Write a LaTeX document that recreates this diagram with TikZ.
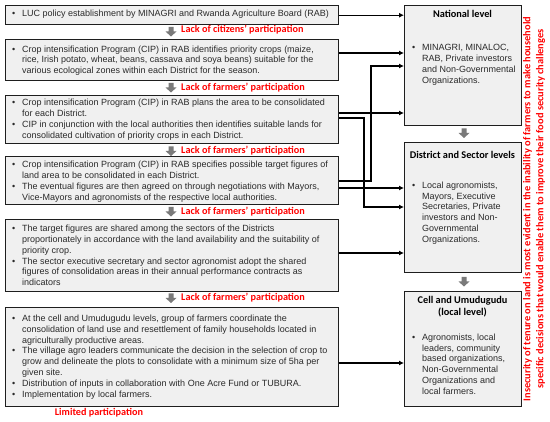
\documentclass[tikz,border=0pt]{standalone}
\usepackage{fontspec}
\setmainfont{Liberation Sans}
\newfontfamily\calfont{Carlito}
\usetikzlibrary{arrows.meta,calc}
\definecolor{boxfill}{HTML}{F0F0F0}
\definecolor{boxline}{HTML}{1E1E1E}
\definecolor{txtc}{HTML}{2A2A2A}
\definecolor{labred}{HTML}{FF0000}
\definecolor{garr}{HTML}{7A7A7A}
\newcommand{\bu}{\makebox[10pt][l]{\textbullet}}
\newcommand{\ct}{\hspace*{10pt}}
\newcommand{\bodyf}{\fontsize{9.0}{10.8}\selectfont}
\tikzset{
  lbox/.style={draw=boxline, line width=1.4pt, fill=boxfill, anchor=north west,
    minimum width=333pt, inner sep=0pt},
  ltext/.style={anchor=west, align=left, inner sep=0pt, font=\bodyf, text=txtc},
  rbox/.style={draw=boxline, line width=1.4pt, fill=boxfill, anchor=north west,
    minimum width=117pt, inner sep=0pt},
  rtext/.style={anchor=north west, align=left, inner sep=0pt, font=\bodyf, text=txtc},
  head/.style={align=center, inner sep=0pt, font=\calfont\bfseries\fontsize{10.3}{12}\selectfont, text=black},
  lab/.style={anchor=west, inner sep=0pt, font=\calfont\bfseries\fontsize{10.2}{12}\selectfont, text=labred},
  conn/.style={line width=1.1pt, draw=black, -{Latex[length=5pt,width=5pt]}},
  garrow/.pic={\fill[garr] (-2.5,0) -- (2.5,0) -- (2.5,4.5) -- (5.5,4.5) -- (0,9.5) -- (-5.5,4.5) -- (-2.5,4.5) -- cycle;}
}
\begin{document}
\begin{tikzpicture}[x=1pt,y=-1pt]
\useasboundingbox (0,0) rectangle (550,422);
% left boxes
\node[lbox, minimum height=19pt] (b1) at (5,5) {};
\node[ltext] (t1) at (12,14.5) {\bu LUC policy establishment by MINAGRI and Rwanda Agriculture Board (RAB)};
\node[lbox, minimum height=41pt] (b2) at (5,39) {};
\node[ltext] (t2) at (12,60.5) {\bu Crop intensification Program (CIP) in RAB identifies priority crops (maize,\\\ct rice, Irish potato, wheat, beans, cassava and soya beans) suitable for the\\\ct various ecological zones within each District for the season.};
\node[lbox, minimum height=48pt] (b3) at (5,95) {};
\node[ltext] (t3) at (12,119.5) {\bu Crop intensification Program (CIP) in RAB plans the area to be consolidated\\\ct for each District.\\\bu CIP in conjunction with the local authorities then identifies suitable lands for\\\ct consolidated cultivation of priority crops in each District.};
\node[lbox, minimum height=48pt] (b4) at (5,156) {};
\node[ltext] (t4) at (12,181.5) {\bu Crop intensification Program (CIP) in RAB specifies possible target figures of\\\ct land area to be consolidated in each District.\\\bu The eventual figures are then agreed on through negotiations with Mayors,\\\ct Vice-Mayors and agronomists of the respective local authorities.};
\node[lbox, minimum height=72pt] (b5) at (5,219) {};
\node[ltext] (t5) at (12,255.5) {\bu The target figures are shared among the sectors of the Districts\\\ct proportionately in accordance with the land availability and the suitability of\\\ct priority crop.\\\bu The sector executive secretary and sector agronomist adopt the shared\\\ct figures of consolidation areas in their annual performance contracts as\\\ct indicators};
\node[lbox, minimum height=99pt] (b6) at (5,307) {};
\node[ltext] (t6) at (12,357) {\bu At the cell and Umudugudu levels, group of farmers coordinate the\\\ct consolidation of land use and resettlement of family households located in\\\ct agriculturally productive areas.\\\bu The village agro leaders communicate the decision in the selection of crop to\\\ct grow and delineate the plots to consolidate with a minimum size of 5ha per\\\ct given site.\\\bu Distribution of inputs in collaboration with One Acre Fund or TUBURA.\\\bu Implementation by local farmers.};
% gray arrows and labels
\pic at (171,27) {garrow};
\node[lab] (l1) at (181,30) {Lack of citizens’ participation};
\pic at (171,83) {garrow};
\node[lab] (l2) at (181,87.5) {Lack of farmers’ participation};
\pic at (171,146.5) {garrow};
\node[lab] (l3) at (181,151) {Lack of farmers’ participation};
\pic at (171,207) {garrow};
\node[lab] (l4) at (181,211.5) {Lack of farmers’ participation};
\pic at (171,293.5) {garrow};
\node[lab] (l5) at (181,298) {Lack of farmers’ participation};
\node[lab, anchor=center] (l6) at (99,413) {Limited participation};
% right boxes
\node[rbox, minimum height=120pt] (nat) at (404,5) {};
\node[head] (natH) at (462.5,14) {National level};
\node[rtext] (natT) at (412,44.5) {\bu MINAGRI, MINALOC,\\\ct RAB, Private investors\\\ct and Non-Governmental\\\ct Organizations.};
\node[rbox, minimum height=130pt] (dist) at (404,142) {};
\node[head] (distH) at (462.5,155) {District and Sector levels};
\node[rtext] (distT) at (412,181.5) {\bu Local agronomists,\\\ct Mayors, Executive\\\ct Secretaries, Private\\\ct investors and Non-\\\ct Governmental\\\ct Organizations.};
\node[rbox, minimum height=115pt] (cell) at (404,291) {};
\node[head] (cellH) at (462.5,307) {Cell and Umudugudu\\(local level)};
\node[rtext] (cellT) at (412,333.5) {\bu Agronomists, local\\\ct leaders, community\\\ct based organizations,\\\ct Non-Governmental\\\ct Organizations and\\\ct local farmers.};
\pic at (464,128.5) {garrow};
\pic at (464,277) {garrow};
% vertical text
\node[rotate=90, align=center, inner sep=0pt, font=\calfont\bfseries\fontsize{10.4}{13}\selectfont, text=labred] (side) at (534,209) {Insecurity of tenure on land is most evident in the inability of farmers to make household\\specific decisions that would enable them to improve their food security challenges};
% connectors
\draw[conn] (b1.east) -- (b1.east -| nat.west);
\coordinate (c2) at ($(b2.north east)+(0,14)$);
\draw[conn] (c2) -- (c2 -| nat.west);
\coordinate (c3a) at ($(b3.north east)+(0,18)$);
\draw[conn] (c3a) -- (c3a -| nat.west);
\coordinate (c3b) at ($(b3.north east)+(0,23)$);
\coordinate (k3) at (364,207);
\draw[conn] (c3b) -| (k3) -- (k3 -| dist.west);
\coordinate (c4a) at ($(b4.north east)+(0,25)$);
\coordinate (k4) at (371,66);
\draw[conn] (c4a) -| (k4) -- (k4 -| nat.west);
\coordinate (c4b) at ($(b4.north east)+(0,32)$);
\draw[conn] (c4b) -- (c4b -| dist.west);
\coordinate (c5) at ($(b5.north east)+(0,34)$);
\draw[conn] (c5) -- (c5 -| dist.west);
\coordinate (c6) at ($(b6.north east)+(0,56)$);
\draw[conn] (c6) -- (c6 -| cell.west);
\end{tikzpicture}
\end{document}
